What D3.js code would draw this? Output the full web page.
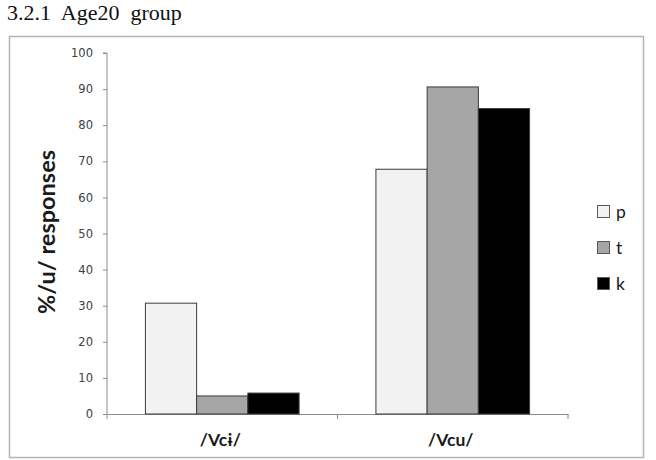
<!DOCTYPE html>
<html><head><meta charset="utf-8">
<script src="https://cdn.jsdelivr.net/npm/d3@7"></script>
<style>body{margin:0;background:#fff}svg{display:block}</style>
</head><body>
<svg id="c" width="656" height="460"></svg>
<script>
const categories = ["/Vcɨ/", "/Vcu/"];
const seriesNames = ["p", "t", "k"];
const pValues = [30.7, 67.8];
const tValues = [5.0, 90.6];
const kValues = [5.8, 84.6];
const yTicks = [0,10,20,30,40,50,60,70,80,90,100];
const colors = ["#f2f2f2", "#a6a6a6", "#000000"];

(function(){
const series = [pValues, tValues, kValues];
const svg = d3.select("#c");

svg.append("text").attr("x", 7).attr("y", 20)
  .style("font-family", "'Liberation Serif', serif").style("font-size", "22px")
  .style("white-space", "pre")
  .attr("fill", "#111").text("3.2.1  Age20  group");

svg.append("rect").attr("x", 9.5).attr("y", 36.5).attr("width", 634).attr("height", 421)
  .attr("fill", "none").attr("stroke", "#b4b4b4").attr("stroke-width", 1.5);

const pl = 107, pr = 568, pt = 53, pb = 414;
const x = d3.scaleBand().domain(categories).range([pl, pr]).paddingInner(0).paddingOuter(0);
const y = d3.scaleLinear().domain([0, 100]).range([pb, pt]);
const bw = x.bandwidth() / 4.5;
const xs = d3.scaleBand().domain(seriesNames).range([0, bw * 3]);

const ya = svg.append("g").attr("transform", `translate(${pl},0)`)
  .call(d3.axisLeft(y).tickValues(yTicks).tickSize(4).tickPadding(10));
ya.select(".domain").attr("stroke", "#8c8c8c").attr("d", `M-4,${pt}H0V${pb}`);
ya.selectAll(".tick line").attr("stroke", "#8c8c8c");
ya.selectAll(".tick text").style("font-family", "'DejaVu Sans', sans-serif")
  .style("font-size", "11.5px").attr("fill", "#404040");

const xa = svg.append("g").attr("transform", `translate(0,${pb})`)
  .call(d3.axisBottom(x).tickSize(0).tickFormat(""));
xa.select(".domain").attr("stroke", "#8c8c8c");
xa.selectAll(".tick").remove();
const bounds = [pl].concat(categories.map(c => x(c) + x.bandwidth()));
xa.selectAll("line.sep").data(bounds).enter().append("line")
  .attr("x1", d => d).attr("x2", d => d).attr("y1", 0).attr("y2", 5)
  .attr("stroke", "#8c8c8c");

seriesNames.forEach((s, si) => {
  svg.append("g").selectAll("rect").data(categories).enter().append("rect")
    .attr("x", c => x(c) + bw * 0.75 + xs(s))
    .attr("y", (c, i) => y(series[si][i]))
    .attr("width", xs.bandwidth())
    .attr("height", (c, i) => y(0) - y(series[si][i]))
    .attr("fill", colors[si]).attr("stroke", "#3a3a3a").attr("stroke-width", 1);
});

svg.append("g").selectAll("text").data(categories).enter().append("text")
  .attr("x", c => x(c) + x.bandwidth() / 2 - 2).attr("y", 446)
  .attr("text-anchor", "middle")
  .style("font-family", "Lato, 'Noto Sans', sans-serif").style("font-weight", "bold")
  .style("font-size", "17.5px").attr("fill", "#1a1a1a").text(c => c);

svg.append("text").attr("transform", "translate(55,232) rotate(-90)")
  .attr("text-anchor", "middle")
  .style("font-family", "Lato, 'Noto Sans', sans-serif").style("font-weight", "bold")
  .style("font-size", "23.5px").attr("fill", "#1a1a1a").text("%/u/ responses");

const lg = svg.append("g");
seriesNames.forEach((s, i) => {
  const ly = 212 + i * 36;
  lg.append("rect").attr("x", 597.5).attr("y", ly - 6.5).attr("width", 12).attr("height", 12)
    .attr("fill", colors[i]).attr("stroke", "#5a5a5a").attr("stroke-width", 1);
  lg.append("text").attr("x", 616).attr("y", ly + 5.5)
    .style("font-family", "Lato, 'Noto Sans', sans-serif").style("font-size", "17.5px")
    .attr("fill", "#1a1a1a").text(s);
});
})();
</script>
</body></html>
